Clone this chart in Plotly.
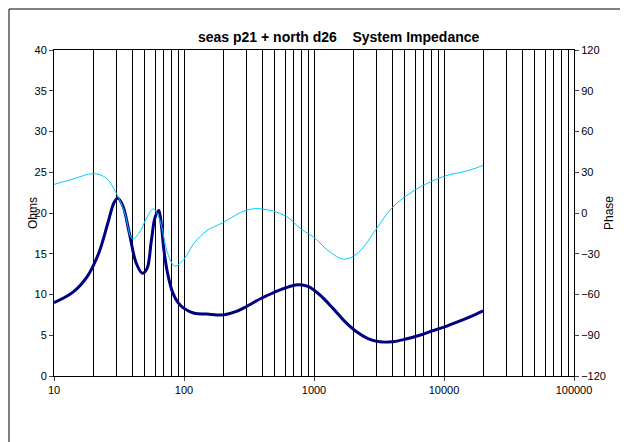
import plotly.graph_objects as go

freq_z = [10, 14, 18, 22, 26, 29, 31, 34, 38, 43, 48, 52, 56, 60, 64, 67, 70, 75, 82, 90, 100, 120, 150, 200, 250, 300, 400, 500, 600, 750, 900, 1100, 1400, 1700, 2100, 2600, 3200, 4000, 5000, 6500, 8000, 10000, 13000, 16000, 20000]
ohms = [9.0, 10.3, 12.2, 15.0, 18.8, 21.3, 21.8, 20.8, 17.5, 13.8, 12.6, 13.2, 16.5, 19.5, 20.3, 18.5, 15.5, 12.5, 10.2, 9.0, 8.3, 7.7, 7.6, 7.5, 7.9, 8.5, 9.6, 10.3, 10.8, 11.2, 11.0, 10.0, 8.3, 6.8, 5.5, 4.6, 4.2, 4.2, 4.5, 5.0, 5.5, 6.0, 6.7, 7.3, 8.0]

freq_p = [10, 14, 20, 25, 30, 35, 40, 45, 52, 58, 65, 75, 85, 100, 120, 150, 200, 300, 400, 600, 800, 1000, 1300, 1700, 2200, 3000, 4000, 6000, 10000, 15000, 20000]
phase = [21, 25, 29, 26, 15, 0, -19, -15, -3, 3, -5, -30, -39, -34, -22, -13, -7, 2, 3, -2, -12, -18, -28, -34, -29, -12, 4, 17, 27, 31, 35]

fig = go.Figure()
fig.add_trace(go.Scatter(x=freq_p, y=phase, yaxis="y2", mode="lines",
                         line=dict(color="#00ccff", width=1, shape="spline"), showlegend=False))
fig.add_trace(go.Scatter(x=freq_z, y=ohms, mode="lines",
                         line=dict(color="#000080", width=3, shape="spline"), showlegend=False))

font = "Liberation Sans, Arial"
L, R, T, B = 46, 566, 42, 368
w, h = R - L, B - T
fig.update_layout(
    width=628, height=442, margin=dict(l=L, r=628 - R, t=T, b=442 - B, autoexpand=False),
    paper_bgcolor="white", plot_bgcolor="white",
    font=dict(family=font, size=11, color="black"),
    xaxis=dict(type="log", range=[1, 5], tickvals=[10, 100, 1000, 10000, 100000],
               ticktext=["10", "100", "1000", "10000", "100000"], automargin=False,
               showgrid=True, gridcolor="black", gridwidth=1,
               minor=dict(showgrid=True, gridcolor="black", gridwidth=1, dtick="D1"),
               showline=True, linecolor="black", mirror=True, ticks="outside", ticklen=4, zeroline=False),
    yaxis=dict(range=[0, 40], dtick=5, showgrid=False, showline=True, linecolor="black",
               ticks="outside", ticklen=4, zeroline=False, automargin=False),
    yaxis2=dict(range=[-120, 120], dtick=30, overlaying="y", side="right", showgrid=False,
                showline=True, linecolor="black", ticks="outside", ticklen=4, zeroline=False,
                automargin=False),
)
fig.add_annotation(text="<b>seas p21 + north d26    System Impedance</b>", xref="paper", yref="paper",
                   x=(330 - L) / w, y=(B - 19) / h, showarrow=False, font=dict(size=14))
fig.add_annotation(text="Ohms", textangle=-90, xref="paper", yref="paper",
                   x=(16 - L) / w, y=(B - 205) / h, showarrow=False, font=dict(size=12))
fig.add_annotation(text="Phase", textangle=-90, xref="paper", yref="paper",
                   x=(610 - L) / w, y=(B - 205) / h, showarrow=False, font=dict(size=12))
fig.add_shape(type="rect", xref="paper", yref="paper",
              x0=(1 - L) / w, x1=(627 - L) / w, y0=(B - 441) / h, y1=(B - 1) / h,
              line=dict(color="black", width=1), layer="below")
fig.write_html("out.html")
